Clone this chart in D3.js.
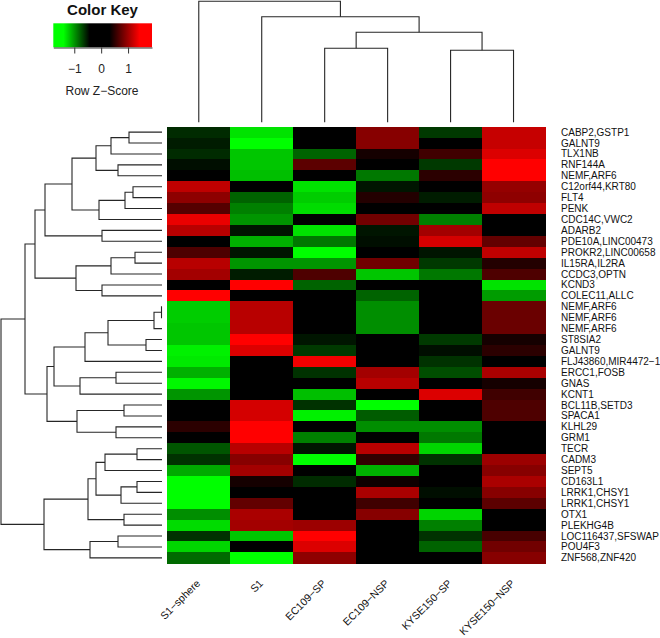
<!DOCTYPE html>
<html><head><meta charset="utf-8">
<script src="https://cdn.jsdelivr.net/npm/d3@7"></script>
<style>body{margin:0;background:#fff} svg{display:block} text{font-family:"Liberation Sans",Arial,sans-serif}</style>
</head><body><svg id="c" width="660" height="638"></svg>
<script>
const colNames = ["S1\u2212sphere","S1","EC109\u2212SP","EC109\u2212NSP","KYSE150\u2212SP","KYSE150\u2212NSP"];
const rowNames = ["CABP2,GSTP1","GALNT9","TLX1NB","RNF144A","NEMF,ARF6","C12orf44,KRT80","FLT4","PENK",
  "CDC14C,VWC2","ADARB2","PDE10A,LINC00473","PROKR2,LINC00658","IL15RA,IL2RA","CCDC3,OPTN","KCND3",
  "COLEC11,ALLC","NEMF,ARF6","NEMF,ARF6","NEMF,ARF6","ST8SIA2","GALNT9","FLJ43860,MIR4472\u22121",
  "ERCC1,FOSB","GNAS","KCNT1","BCL11B,SETD3","SPACA1","KLHL29","GRM1","TECR","CADM3","SEPT5",
  "CD163L1","LRRK1,CHSY1","LRRK1,CHSY1","OTX1","PLEKHG4B","LOC116437,SFSWAP","POU4F3","ZNF568,ZNF420"];
// row z-scores, one array per row (columns in colNames order)
const zScores = [
  [-0.3,-1.6,0,0.95,-0.4,1.4],
  [-0.2,-1.8,0,0.95,0,1.4],
  [-0.3,-1.4,-0.7,0.15,0.45,1.55],
  [-0.1,-1.4,0.65,0,-0.4,1.8],
  [0,-1.35,0,-0.85,0.3,1.8],
  [1.35,0,-1.6,-0.15,0,1.05],
  [1.0,-0.7,-1.45,0.25,-0.2,1.0],
  [0.6,-0.9,-1.55,0,0,1.35],
  [1.65,-1.05,0,0.8,-0.9,0],
  [1.3,-0.15,-1.6,-0.15,1.15,0],
  [0,-1.25,-0.85,-0.1,1.5,0.7],
  [0.55,-0.15,-1.8,0,-0.15,1.35],
  [1.3,-1.05,-1.05,0.8,-0.4,0.25],
  [1.15,-0.2,0.55,-1.4,-0.85,0.55],
  [0,1.8,-0.7,0,0,-1.6],
  [1.8,0,0,-0.7,0,-1.1],
  [-1.45,1.3,0,-1.0,0,0.75],
  [-1.45,1.3,0,-1.0,0,0.75],
  [-1.4,1.3,0,-1.0,0,0.75],
  [-1.4,1.8,-0.15,0,-0.4,0.15],
  [-1.7,1.55,-0.4,0,-0.1,0.3],
  [-1.65,0,1.7,0,-0.35,0],
  [-1.25,0,-0.35,1.15,-0.55,1.2],
  [-1.75,0,0,1.3,0,0.15],
  [-1.05,0,-1.35,0,1.55,0.45],
  [0,1.5,-0.35,-1.8,0,0.55],
  [0,1.5,-1.7,-0.65,0,0.55],
  [0.3,1.8,0,-1.0,-1.0,0],
  [0,1.8,-0.9,0,-0.85,0],
  [-0.6,1.3,-0.15,1.3,-1.5,0],
  [-0.35,0.95,-1.8,0.35,-0.35,1.1],
  [-1.2,1.15,0,-1.25,0,0.95],
  [-1.8,0.15,-0.3,0.1,0,1.2],
  [-1.8,0,0,1.2,-0.1,0.95],
  [-1.8,0.7,0,0.45,0,0.65],
  [-1.0,1.2,0,0.95,-1.5,0],
  [-1.55,1.15,1.1,0,-0.9,0],
  [-0.35,-1.4,1.8,0,-0.35,0.5],
  [-1.5,0,1.55,0,-0.7,0.8],
  [-0.75,-1.8,1.0,0,0,0.95]
];
// column dendrogram (merge heights)
const colTree = {h:121, c:[0, {h:105.6, c:[1, {h:90, c:[{h:74, c:[2,3]}, {h:72, c:[4,5]}]}]}]};
// row dendrogram (merge heights)
const rowTree = {h:161, c:[
  {h:137, c:[
    {h:127, c:[
      {h:117, c:[
        {h:90, c:[
          {h:66, c:[{h:51, c:[{h:33, c:[0,1]}, 2]}, {h:44, c:[3,4]}]},
          {h:63, c:[{h:37, c:[{h:29, c:[5,6]}, 7]}, 8]}
        ]},
        {h:60, c:[9,10]}
      ]},
      {h:86, c:[{h:51, c:[{h:27, c:[11,12]}, 13]}, {h:60, c:[14,15]}]}
    ]},
    {h:115, c:[
      {h:108, c:[
        {h:77, c:[{h:54, c:[{h:8, c:[{h:0.5, c:[16,17]}, 18]}, {h:16, c:[19,20]}]}, 21]},
        {h:82, c:[{h:46, c:[22,23]}, 24]}
      ]},
      {h:85, c:[{h:38, c:[25,26]}, {h:46, c:[27,28]}]}
    ]}
  ]},
  {h:118, c:[
    {h:74, c:[
      {h:66, c:[{h:57, c:[{h:25, c:[29,30]}, 31]}, {h:41, c:[{h:25, c:[32,33]}, 34]}]},
      {h:38, c:[35,36]}
    ]},
    {h:72, c:[{h:44, c:[37,38]}, 39]}
  ]}
]};
const keyTicks = [-1, 0, 1];
const keyDomain = [-1.78, 1.89];

const svg = d3.select("#c");
const x = d3.scaleBand().domain(d3.range(colNames.length)).range([167.3, 545]);
const y = d3.scaleBand().domain(d3.range(rowNames.length)).range([126.7, 563.3]);
const color = d3.scaleLinear().domain([-1.8, 0, 1.8]).range(["#00ff00", "#000000", "#ff0000"]).clamp(true);

// heatmap cells
const gCells = svg.append("g").attr("shape-rendering", "crispEdges");
zScores.forEach((row, i) => {
  gCells.selectAll(null).data(row).join("rect")
    .attr("x", (d, j) => x(j)).attr("y", y(i))
    .attr("width", x.bandwidth() + 0.6).attr("height", y.bandwidth() + 0.6)
    .attr("fill", d => color(d));
});

// row labels
svg.append("g").selectAll("text").data(rowNames).join("text")
  .attr("x", 561).attr("y", (d, i) => y(i) + y.bandwidth() / 2)
  .attr("dominant-baseline", "central").attr("font-size", 10).attr("fill", "#111").text(d => d);

// column labels
svg.append("g").selectAll("text").data(colNames).join("text")
  .attr("transform", (d, i) => `translate(${x(i) + x.bandwidth() / 2 + 2},584) rotate(-45)`)
  .attr("text-anchor", "end").attr("font-size", 10.5).attr("fill", "#111").text(d => d);

// dendrogram helper
function layout(node, leafPos) {
  if (typeof node === "number") return {pos: leafPos(node), h: 0};
  const a = layout(node.c[0], leafPos), b = layout(node.c[1], leafPos);
  return {pos: (a.pos + b.pos) / 2, h: node.h, kids: [a, b]};
}
function collect(n, out) { if (n.kids) { out.push(n); n.kids.forEach(k => collect(k, out)); } return out; }

// row dendrogram
const hx = d3.scaleLinear().domain([0, 161]).range([162, 1]);
const rRoot = layout(rowTree, i => y(i) + y.bandwidth() / 2);
svg.append("g").attr("fill", "none").attr("stroke", "#262626").attr("stroke-width", 1.1)
  .selectAll("path").data(collect(rRoot, [])).join("path")
  .attr("d", n => { const [a, b] = n.kids;
    return `M${hx(a.h)},${a.pos}H${hx(n.h)}V${b.pos}H${hx(b.h)}`; });

// column dendrogram
const hy = d3.scaleLinear().domain([0, 121]).range([122.3, 1.3]);
const cRoot = layout(colTree, j => x(j) + x.bandwidth() / 2);
svg.append("g").attr("fill", "none").attr("stroke", "#262626").attr("stroke-width", 1.1)
  .selectAll("path").data(collect(cRoot, [])).join("path")
  .attr("d", n => { const [a, b] = n.kids;
    return `M${a.pos},${hy(a.h)}V${hy(n.h)}H${b.pos}V${hy(b.h)}`; });

// color key
const kx = d3.scaleLinear().domain(keyDomain).range([53.3, 152]);
const defs = svg.append("defs");
const grad = defs.append("linearGradient").attr("id", "kg");
const stops = [[keyDomain[0], "#00ff00"], [-1.4, "#00ff00"], [-0.43, "#000000"], [0.31, "#000000"], [1.43, "#ff0000"], [keyDomain[1], "#ff0000"]];
grad.selectAll("stop").data(stops).join("stop")
  .attr("offset", d => (kx(d[0]) - kx.range()[0]) / (kx.range()[1] - kx.range()[0]))
  .attr("stop-color", d => d[1]);
svg.append("rect").attr("x", kx.range()[0]).attr("y", 23.3).attr("width", kx.range()[1] - kx.range()[0]).attr("height", 24).attr("fill", "url(#kg)");
svg.append("text").attr("x", 102.5).attr("y", 15).attr("text-anchor", "middle")
  .attr("font-size", 15).attr("font-weight", "bold").attr("fill", "#111").text("Color Key");
const ax = svg.append("g").attr("transform", "translate(0,47.5)")
  .call(d3.axisBottom(kx).tickValues(keyTicks).tickSize(6).tickSizeOuter(0).tickPadding(11)
    .tickFormat(d => d < 0 ? "\u2212" + Math.abs(d) : String(d)));
ax.select(".domain").attr("stroke", "#333");
ax.selectAll(".tick line").attr("stroke", "#333");
ax.selectAll("text").attr("font-size", 12).attr("fill", "#222").attr("font-family", "Liberation Sans, Arial, sans-serif");
svg.append("text").attr("x", 102).attr("y", 95).attr("text-anchor", "middle")
  .attr("font-size", 12).attr("fill", "#222").text("Row Z\u2212Score");
</script></body></html>
